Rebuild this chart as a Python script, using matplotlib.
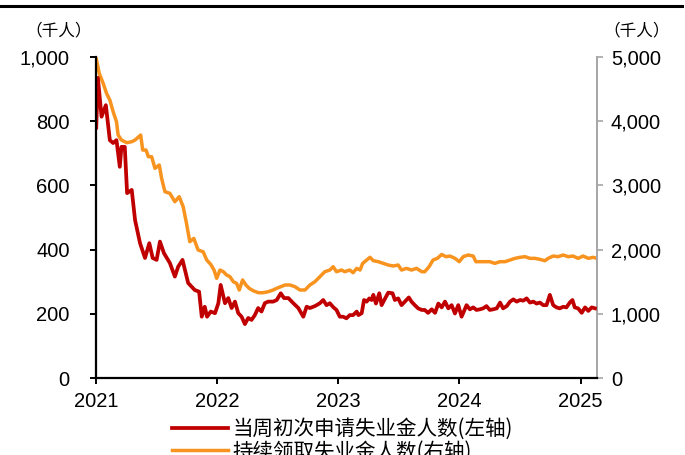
import matplotlib
matplotlib.use("Agg")
import matplotlib.pyplot as plt
import matplotlib.dates as mdates
from matplotlib.ticker import FuncFormatter, FixedLocator
from matplotlib.lines import Line2D
import pandas as pd

plt.rcParams['font.family'] = ['Liberation Sans', 'Noto Sans CJK SC', 'DejaVu Sans']

# 当周初次申请失业金人数 (千人, 左轴)
claims_dates = [
    "2021-01-02", "2021-01-07", "2021-01-18", "2021-01-31", "2021-02-12", "2021-02-22",
    "2021-03-04", "2021-03-14", "2021-03-19", "2021-03-29", "2021-04-05", "2021-04-19",
    "2021-04-29", "2021-05-14", "2021-05-29", "2021-06-11", "2021-06-21", "2021-07-03",
    "2021-07-13", "2021-07-25", "2021-08-12", "2021-08-27", "2021-09-06", "2021-09-19",
    "2021-10-06", "2021-10-26", "2021-11-08", "2021-11-16", "2021-11-25", "2021-12-02",
    "2021-12-13", "2021-12-26", "2022-01-05", "2022-01-12", "2022-01-25", "2022-02-04",
    "2022-02-14", "2022-02-24", "2022-03-06", "2022-03-16", "2022-03-26", "2022-04-05",
    "2022-04-15", "2022-04-25", "2022-05-05", "2022-05-15", "2022-05-25", "2022-06-04",
    "2022-06-19", "2022-06-30", "2022-07-12", "2022-07-22", "2022-08-04", "2022-08-19",
    "2022-09-03", "2022-09-18", "2022-09-28", "2022-10-08", "2022-10-23", "2022-11-07",
    "2022-11-17", "2022-11-27", "2022-12-07", "2022-12-17", "2022-12-27", "2023-01-06",
    "2023-01-16", "2023-01-26", "2023-02-05", "2023-02-15", "2023-02-26", "2023-03-03",
    "2023-03-13", "2023-03-20", "2023-03-28", "2023-04-05", "2023-04-12", "2023-04-17",
    "2023-04-25", "2023-05-05", "2023-05-12", "2023-05-20", "2023-06-01", "2023-06-14",
    "2023-06-21", "2023-07-01", "2023-07-11", "2023-07-21", "2023-08-02", "2023-08-10",
    "2023-08-20", "2023-08-30", "2023-09-10", "2023-09-19", "2023-09-29", "2023-10-10",
    "2023-10-20", "2023-10-30", "2023-11-09", "2023-11-19", "2023-11-29", "2023-12-09",
    "2023-12-19", "2023-12-29", "2024-01-08", "2024-01-23", "2024-02-02", "2024-02-12",
    "2024-02-22", "2024-03-03", "2024-03-13", "2024-03-23", "2024-04-02", "2024-04-12",
    "2024-04-23", "2024-05-03", "2024-05-12", "2024-05-23", "2024-06-02", "2024-06-12",
    "2024-06-22", "2024-07-02", "2024-07-12", "2024-07-22", "2024-08-01", "2024-08-11",
    "2024-08-21", "2024-08-31", "2024-09-10", "2024-09-20", "2024-09-30", "2024-10-10",
    "2024-10-20", "2024-10-30", "2024-11-09", "2024-11-19", "2024-11-29", "2024-12-07",
    "2024-12-14", "2024-12-24", "2025-01-04", "2025-01-14", "2025-01-24", "2025-02-03",
    "2025-02-13",
]
claims_values = [
    780, 935, 814, 850, 741, 732,
    741, 658, 720, 720, 576, 586,
    492, 420, 374, 420, 374, 368,
    425, 389, 358, 316, 347, 368,
    296, 274, 269, 191, 222, 191,
    207, 202, 233, 290, 233, 249,
    218, 238, 202, 191, 168, 187,
    181, 196, 218, 207, 233, 238,
    238, 243, 264, 249, 249, 233,
    218, 191, 222, 218, 224, 233,
    243, 227, 233, 221, 212, 191,
    191, 186, 196, 196, 207, 196,
    202, 243, 238, 248, 243, 259,
    232, 264, 227, 243, 266, 264,
    243, 248, 227, 238, 251, 238,
    227, 217, 212, 212, 203, 214,
    203, 232, 220, 238, 217, 227,
    201, 227, 191, 227, 214, 220,
    212, 214, 217, 224, 212, 214,
    217, 235, 217, 224, 238, 245,
    238, 243, 241, 248, 235, 238,
    232, 235, 227, 227, 259, 227,
    220, 217, 222, 220, 235, 243,
    220, 217, 203, 220, 209, 220,
    217,
]

# 持续领取失业金人数 (千人, 右轴)
cont_dates = [
    "2021-01-01", "2021-01-11", "2021-01-23", "2021-02-02", "2021-02-12", "2021-02-22",
    "2021-03-04", "2021-03-09", "2021-03-19", "2021-04-04", "2021-04-19", "2021-04-29",
    "2021-05-08", "2021-05-16", "2021-05-22", "2021-06-01", "2021-06-08", "2021-06-18",
    "2021-06-28", "2021-07-11", "2021-07-18", "2021-07-28", "2021-08-12", "2021-08-27",
    "2021-09-09", "2021-09-21", "2021-10-01", "2021-10-11", "2021-10-23", "2021-11-05",
    "2021-11-20", "2021-12-01", "2021-12-13", "2021-12-23", "2021-12-31", "2022-01-10",
    "2022-01-20", "2022-01-30", "2022-02-09", "2022-02-19", "2022-03-01", "2022-03-09",
    "2022-03-19", "2022-03-29", "2022-04-08", "2022-04-20", "2022-05-05", "2022-05-20",
    "2022-06-04", "2022-06-19", "2022-06-30", "2022-07-12", "2022-07-25", "2022-08-09",
    "2022-08-24", "2022-09-08", "2022-09-23", "2022-10-08", "2022-10-23", "2022-11-07",
    "2022-11-22", "2022-12-07", "2022-12-17", "2022-12-27", "2023-01-11", "2023-01-21",
    "2023-02-05", "2023-02-15", "2023-02-26", "2023-03-08", "2023-03-16", "2023-03-28",
    "2023-04-07", "2023-04-17", "2023-05-02", "2023-05-17", "2023-06-01", "2023-06-16",
    "2023-07-01", "2023-07-11", "2023-07-26", "2023-08-10", "2023-08-25", "2023-09-10",
    "2023-09-19", "2023-10-02", "2023-10-14", "2023-10-27", "2023-11-09", "2023-11-22",
    "2023-12-04", "2023-12-19", "2024-01-01", "2024-01-13", "2024-01-28", "2024-02-12",
    "2024-02-20", "2024-03-03", "2024-03-18", "2024-04-02", "2024-04-17", "2024-05-03",
    "2024-05-18", "2024-06-02", "2024-06-17", "2024-07-02", "2024-07-17", "2024-08-01",
    "2024-08-16", "2024-08-31", "2024-09-15", "2024-09-25", "2024-10-10", "2024-10-25",
    "2024-11-09", "2024-11-24", "2024-12-09", "2024-12-24", "2025-01-08", "2025-01-24",
    "2025-02-08", "2025-02-18",
]
cont_values = [
    5000, 4746, 4590, 4434, 4330, 4148,
    3992, 3785, 3707, 3665, 3681, 3707,
    3749, 3785, 3551, 3551, 3447, 3447,
    3266, 3318, 3110, 2902, 2876, 2746,
    2824, 2668, 2409, 2123, 2175, 1994,
    1967, 1838, 1770, 1682, 1553, 1682,
    1656, 1604, 1578, 1500, 1474, 1371,
    1527, 1449, 1397, 1360, 1329, 1329,
    1344, 1371, 1397, 1422, 1449, 1449,
    1422, 1371, 1371, 1449, 1500, 1578,
    1656, 1682, 1734, 1656, 1682, 1656,
    1682, 1640, 1708, 1682, 1786, 1838,
    1880, 1827, 1812, 1786, 1760, 1745,
    1760, 1682, 1708, 1682, 1708, 1656,
    1656, 1734, 1838, 1864, 1924, 1890,
    1900, 1864, 1812, 1890, 1916, 1900,
    1812, 1812, 1812, 1812, 1786, 1812,
    1812, 1838, 1864, 1880, 1890, 1864,
    1864, 1848, 1827, 1864, 1900, 1890,
    1916, 1890, 1900, 1864, 1900, 1864,
    1880, 1864,
]

left_ticks = [0, 200, 400, 600, 800, 1000]
right_ticks = [0, 1000, 2000, 3000, 4000, 5000]
series_labels = ["当周初次申请失业金人数(左轴)", "持续领取失业金人数(右轴)"]
unit_label = "（千人）"

RED = "#C00000"
ORANGE = "#F7931E"

fig = plt.figure(figsize=(6.85, 4.55), dpi=100)
ax = fig.add_axes([0.140, 0.1692, 0.7315, 0.7055])
ax2 = ax.twinx()

cd = pd.to_datetime(claims_dates)
od = pd.to_datetime(cont_dates)

l2, = ax2.plot(od, cont_values, color=ORANGE, lw=2.5, solid_joinstyle='round')
l1, = ax.plot(cd, claims_values, color=RED, lw=2.7, solid_joinstyle='round')
ax.set_zorder(ax2.get_zorder() + 1)
ax.patch.set_visible(False)

ax.set_xlim(pd.Timestamp("2021-01-01"), pd.Timestamp("2025-02-19"))
ax.set_ylim(0, 1000)
ax2.set_ylim(0, 5000)

ax.yaxis.set_major_locator(FixedLocator(left_ticks))
ax2.yaxis.set_major_locator(FixedLocator(right_ticks))
fmt = FuncFormatter(lambda v, p: f"{int(v):,}")
ax.yaxis.set_major_formatter(fmt)
ax2.yaxis.set_major_formatter(fmt)
ax.xaxis.set_major_locator(mdates.YearLocator())
ax.xaxis.set_major_formatter(mdates.DateFormatter("%Y"))

for a in (ax, ax2):
    a.spines["top"].set_visible(False)
ax.spines["right"].set_visible(False)
ax2.spines["left"].set_visible(False)
ax2.spines["bottom"].set_visible(False)
ax.spines["left"].set_color("black")
ax.spines["left"].set_linewidth(1.6)
ax.spines["bottom"].set_color("black")
ax.spines["bottom"].set_linewidth(1.6)
ax2.spines["right"].set_color("#A6A6A6")
ax2.spines["right"].set_linewidth(1.4)

ax.tick_params(axis="y", direction="out", length=4, width=1.4, color="black",
               labelsize=14.5, pad=15)
ax.tick_params(axis="x", direction="out", length=4, width=1.4, color="black",
               labelsize=14.5, pad=6)
ax2.tick_params(axis="y", direction="out", length=4, width=1.2, color="#A6A6A6",
                labelsize=14.5, pad=6, labelcolor="black")

cjk = ['Noto Sans CJK SC', 'DejaVu Sans']
fig.text(59 / 685, 1 - 31 / 455, unit_label, ha="center", va="center",
         fontsize=12, family=cjk)
fig.text(637 / 685, 1 - 31 / 455, unit_label, ha="center", va="center",
         fontsize=12, family=cjk)

# top rule
fig.add_artist(Line2D([0.0, 0.995], [1 - 6 / 455, 1 - 6 / 455], color="black",
                      lw=2.2, transform=fig.transFigure))

fig.legend([l1, l2], series_labels, loc="upper left",
           bbox_to_anchor=(172 / 685, 1 - 418 / 455), frameon=False,
           prop={"family": cjk, "size": 14.8}, handlelength=2.7,
           handletextpad=0.25, labelspacing=0.02, borderpad=0, borderaxespad=0)

fig.savefig("out.png", dpi=100)
